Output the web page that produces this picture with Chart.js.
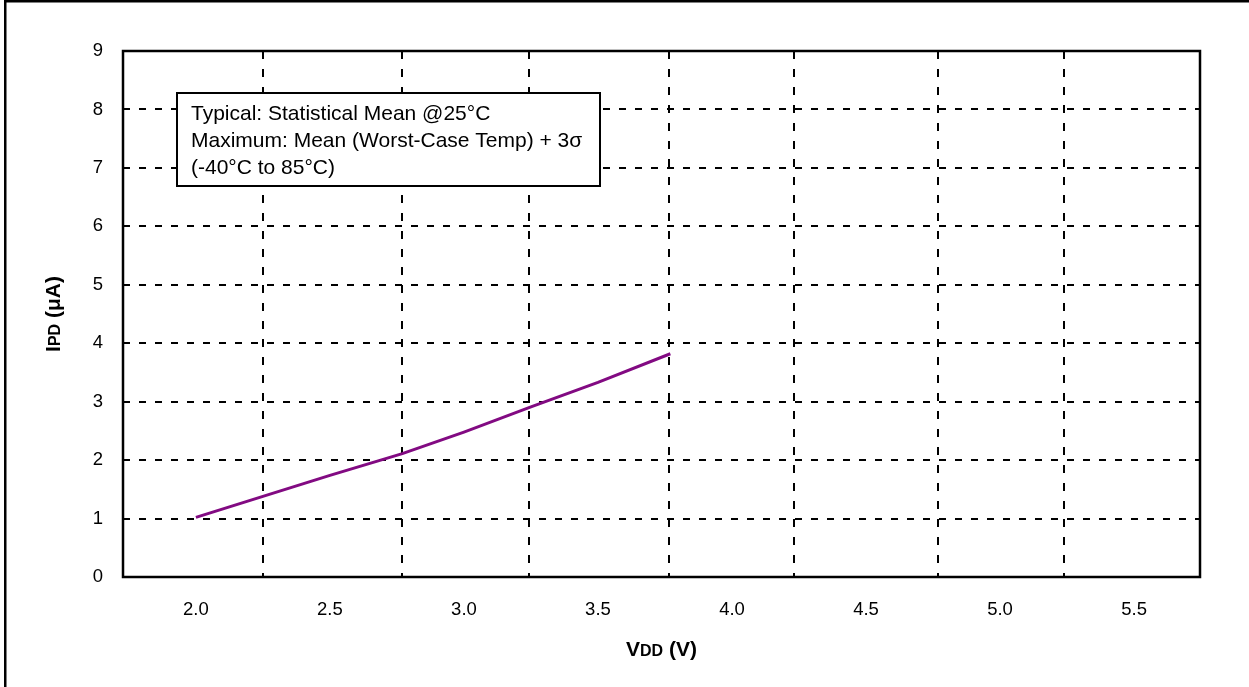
<!DOCTYPE html>
<html><head><meta charset="utf-8">
<script src="https://cdn.jsdelivr.net/npm/chart.js@4"></script>
<style>html,body{margin:0;padding:0;background:#fff;overflow:hidden;} canvas{display:block;}</style>
</head><body>
<canvas id="c" width="1249" height="687"></canvas>
<script>
// ---- data ----
const vddVolts = [2.0, 2.25, 2.5, 2.77, 3.0, 3.25, 3.5, 3.77];
const ipdMicroAmps = [1.02, 1.38, 1.74, 2.11, 2.48, 2.91, 3.33, 3.82];
const xTickVolts = [2.0, 2.5, 3.0, 3.5, 4.0, 4.5, 5.0, 5.5];
const xTickLabels = ['2.0', '2.5', '3.0', '3.5', '4.0', '4.5', '5.0', '5.5'];
const xGridVolts = [2.25, 2.769, 3.243, 3.765, 4.231, 4.769, 5.239];
const yTickValues = [0, 1, 2, 3, 4, 5, 6, 7, 8, 9];
const yTickLabels = ['0', '1', '2', '3', '4', '5', '6', '7', '8', '9'];
const noteLines = [
  'Typical: Statistical Mean @25\u00B0C',
  'Maximum: Mean (Worst-Case Temp) + 3\u03C3',
  '(-40\u00B0C to 85\u00B0C)'
];

const FONT = '"Liberation Sans", Arial, Helvetica, sans-serif';

function drawMixed(ctx, parts, x, y, align) {
  let total = 0;
  parts.forEach(p => { ctx.font = 'bold ' + p.size + 'px ' + FONT; p.w = ctx.measureText(p.t).width; total += p.w; });
  let cx = align === 'center' ? x - total / 2 : x;
  ctx.textAlign = 'left';
  ctx.textBaseline = 'alphabetic';
  parts.forEach(p => { ctx.font = 'bold ' + p.size + 'px ' + FONT; ctx.fillText(p.t, cx, y); cx += p.w; });
}

const decor = {
  id: 'decor',
  afterDatasetsDraw(chart) {
    const ctx = chart.ctx;
    const a = chart.chartArea;
    ctx.save();
    // plot border
    ctx.strokeStyle = '#000';
    ctx.lineWidth = 2.5;
    ctx.strokeRect(a.left, a.top, a.right - a.left, a.bottom - a.top);
    // note box
    ctx.fillStyle = '#fff';
    ctx.fillRect(177, 93, 423, 93);
    ctx.lineWidth = 2;
    ctx.strokeRect(177, 93, 423, 93);
    ctx.fillStyle = '#000';
    ctx.font = '21px ' + FONT;
    ctx.textAlign = 'left';
    ctx.textBaseline = 'alphabetic';
    noteLines.forEach((t, i) => ctx.fillText(t, 191, 120 + i * 27));
    // axis titles
    const cxp = (a.left + a.right) / 2;
    drawMixed(ctx, [{t: 'V', size: 21}, {t: 'DD', size: 16}, {t: ' (V)', size: 21}], cxp, 656, 'center');
    ctx.save();
    ctx.translate(60, (a.top + a.bottom) / 2);
    ctx.rotate(-Math.PI / 2);
    drawMixed(ctx, [{t: 'I', size: 21}, {t: 'PD', size: 16}, {t: ' (\u03BCA)', size: 21}], 0, 0, 'center');
    ctx.restore();
    // outer frame
    ctx.fillStyle = '#000';
    ctx.fillRect(4, 0, 2.5, chart.height);
    ctx.fillRect(4, 0, chart.width, 2.5);
    ctx.restore();
  }
};

new Chart(document.getElementById('c'), {
  type: 'scatter',
  data: {
    datasets: [{
      data: vddVolts.map((v, i) => ({x: v, y: ipdMicroAmps[i]})),
      showLine: true,
      borderColor: '#820a82',
      borderWidth: 3,
      pointRadius: 0,
      tension: 0,
      fill: false
    }]
  },
  options: {
    responsive: false,
    animation: false,
    devicePixelRatio: 1,
    layout: {padding: {top: 51, right: 49, left: 0, bottom: 0}},
    plugins: {legend: {display: false}, tooltip: {enabled: false}, title: {display: false}},
    scales: {
      x: {
        type: 'linear', position: 'bottom', min: 1.728, max: 5.746,
        afterBuildTicks: s => { s.ticks = xTickVolts.map(v => ({value: v})); },
        afterFit: s => { s.height = 110; },
        grid: {display: false, drawTicks: false},
        border: {display: false},
        ticks: {
          padding: 22, color: '#000', font: {family: FONT, size: 18.5}, maxRotation: 0, autoSkip: false,
          callback: (v, i) => xTickLabels[i]
        }
      },
      xg: {
        type: 'linear', position: 'bottom', min: 1.728, max: 5.746,
        afterBuildTicks: s => { s.ticks = xGridVolts.map(v => ({value: v})); },
        afterFit: s => { s.height = 0; },
        grid: {display: true, drawTicks: false, color: '#000', lineWidth: 2, borderDash: [8, 10]},
        border: {display: false, dash: [8, 10]},
        ticks: {display: false}
      },
      y: {
        type: 'linear', min: 0, max: 9,
        afterBuildTicks: s => { s.ticks = yTickValues.map(v => ({value: v})); },
        afterFit: s => { s.width = 123; },
        grid: {display: true, drawTicks: false, color: '#000', lineWidth: 2, borderDash: [7, 9]},
        border: {display: false, dash: [7, 9]},
        ticks: {
          padding: 20, color: '#000', font: {family: FONT, size: 18.5},
          callback: (v, i) => yTickLabels[i]
        }
      }
    }
  },
  plugins: [decor]
});
</script>
</body></html>
